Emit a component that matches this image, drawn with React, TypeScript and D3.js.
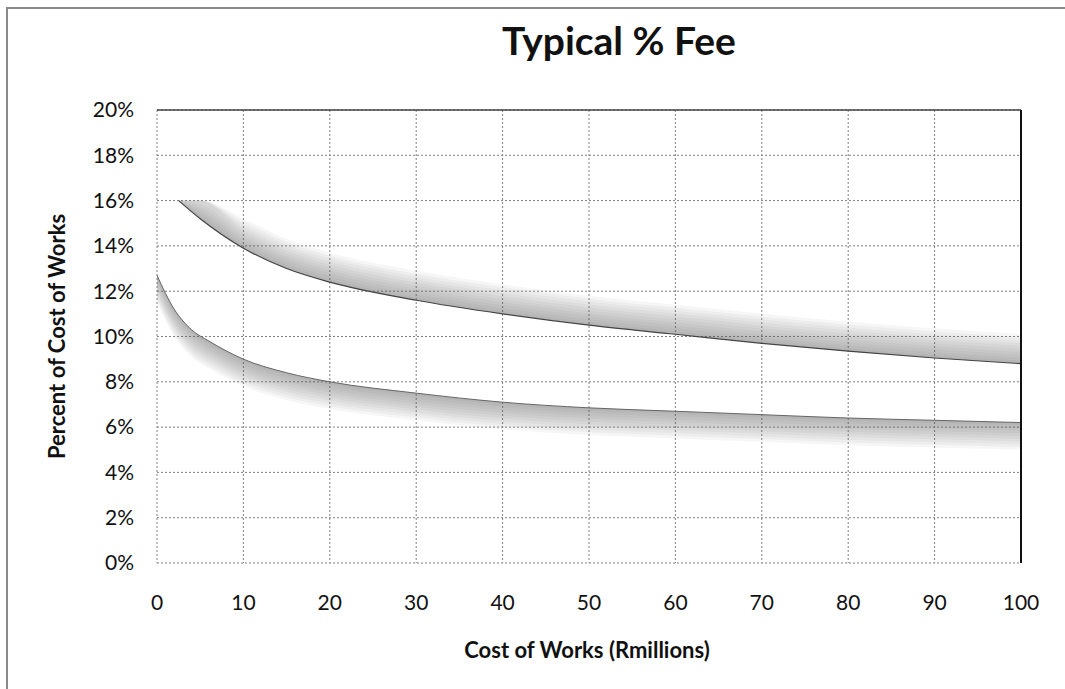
import React, { useRef, useEffect } from "react";
import * as d3 from "d3";

// values (percent of cost of works)
const upperX = [2.5, 5, 10, 15, 20, 30, 40, 50, 60, 70, 80, 90, 100];
const upperY = [16.0, 15.2, 13.9, 13.0, 12.4, 11.6, 11.0, 10.5, 10.1, 9.7, 9.35, 9.05, 8.8];
const lowerX = [0, 2, 4, 6, 10, 15, 20, 30, 40, 50, 60, 70, 80, 90, 100];
const lowerY = [12.7, 11.2, 10.3, 9.8, 9.0, 8.4, 8.0, 7.5, 7.1, 6.85, 6.7, 6.55, 6.4, 6.3, 6.2];
const xTicks = [0, 10, 20, 30, 40, 50, 60, 70, 80, 90, 100];
const yTicks = [0, 2, 4, 6, 8, 10, 12, 14, 16, 18, 20];

type Pt = { x: number; y: number };

const TypicalFeeChart = () => {
  const svgRef = useRef<SVGSVGElement>(null);

  useEffect(() => {
    document.body.style.margin = "0";
    if (!svgRef.current) return;
    const svg = d3.select(svgRef.current);
    svg.selectAll("*").remove();

    const width = 1065;
    const height = 689;
    const left = 157;
    const right = 1021;
    const top = 110;
    const bottom = 563;
    const font = "Lato, 'Open Sans', sans-serif";

    const x = d3.scaleLinear([0, 100], [left, right]);
    const y = d3.scaleLinear([0, 20], [bottom, top]);

    const upper: Pt[] = upperX.map((v, i) => ({ x: v, y: upperY[i] }));
    const lower: Pt[] = lowerX.map((v, i) => ({ x: v, y: lowerY[i] }));

    svg.attr("width", width).attr("height", height).style("display", "block");

    svg
      .append("rect")
      .attr("width", width)
      .attr("height", height)
      .attr("fill", "white");

    // outer chart border (scan)
    svg
      .append("rect")
      .attr("x", 7)
      .attr("y", 8)
      .attr("width", width + 20)
      .attr("height", height + 20)
      .attr("fill", "none")
      .attr("stroke", "#8a8a8a")
      .attr("stroke-width", 2);

    // grid
    const grid = svg.append("g");
    grid
      .selectAll("line.h")
      .data(yTicks)
      .join("line")
      .attr("x1", left)
      .attr("x2", right)
      .attr("y1", (d) => y(d))
      .attr("y2", (d) => y(d))
      .attr("stroke", "#808080")
      .attr("stroke-width", 1)
      .attr("stroke-dasharray", "2,2");
    grid
      .selectAll("line.v")
      .data(xTicks)
      .join("line")
      .attr("x1", (d) => x(d))
      .attr("x2", (d) => x(d))
      .attr("y1", top)
      .attr("y2", bottom)
      .attr("stroke", "#808080")
      .attr("stroke-width", 1)
      .attr("stroke-dasharray", "2,2");

    // soft grey bands outside the white fee band
    const steps = 10;
    const upperArea = (k: number) =>
      d3
        .area<Pt>()
        .x((d) => x(d.x))
        .y0((d) => y(d.y))
        .y1((d) => y(Math.min(d.y + k * 0.13, 16)))
        .curve(d3.curveMonotoneX);
    const lowerArea = (k: number) =>
      d3
        .area<Pt>()
        .x((d) => x(d.x))
        .y0((d) => y(d.y))
        .y1((d) => y(d.y - k * 0.12))
        .curve(d3.curveMonotoneX);

    for (let k = 1; k <= steps; k++) {
      svg
        .append("path")
        .attr("d", upperArea(k)(upper))
        .attr("fill", "#555")
        .attr("fill-opacity", 0.055);
      svg
        .append("path")
        .attr("d", lowerArea(k)(lower))
        .attr("fill", "#555")
        .attr("fill-opacity", 0.055);
    }

    const line = d3
      .line<Pt>()
      .x((d) => x(d.x))
      .y((d) => y(d.y))
      .curve(d3.curveMonotoneX);

    svg
      .append("path")
      .attr("d", line(upper))
      .attr("fill", "none")
      .attr("stroke", "#444")
      .attr("stroke-width", 1.2);
    svg
      .append("path")
      .attr("d", line(lower))
      .attr("fill", "none")
      .attr("stroke", "#666")
      .attr("stroke-width", 1);

    // plot border
    svg
      .append("line")
      .attr("x1", left)
      .attr("x2", right)
      .attr("y1", top)
      .attr("y2", top)
      .attr("stroke", "#444")
      .attr("stroke-width", 1.5);
    svg
      .append("line")
      .attr("x1", right)
      .attr("x2", right)
      .attr("y1", top)
      .attr("y2", bottom)
      .attr("stroke", "#111")
      .attr("stroke-width", 2);

    // tick labels
    svg
      .append("g")
      .selectAll("text")
      .data(yTicks)
      .join("text")
      .attr("x", 134)
      .attr("y", (d) => y(d))
      .attr("dy", "0.35em")
      .attr("text-anchor", "end")
      .style("font", `21px ${font}`)
      .attr("fill", "#111")
      .text((d) => `${d}%`);

    svg
      .append("g")
      .selectAll("text")
      .data(xTicks)
      .join("text")
      .attr("x", (d) => x(d))
      .attr("y", 603)
      .attr("dy", "0.35em")
      .attr("text-anchor", "middle")
      .style("font", `21px ${font}`)
      .attr("fill", "#111")
      .text((d) => d);

    // titles
    svg
      .append("text")
      .attr("x", 619)
      .attr("y", 55)
      .attr("text-anchor", "middle")
      .style("font", `bold 39px ${font}`)
      .attr("fill", "#111")
      .text("Typical % Fee");

    svg
      .append("text")
      .attr("x", 587)
      .attr("y", 650)
      .attr("dy", "0.35em")
      .attr("text-anchor", "middle")
      .style("font", `bold 22px ${font}`)
      .attr("fill", "#111")
      .text("Cost of Works (Rmillions)");

    svg
      .append("text")
      .attr("transform", `translate(57,${(top + bottom) / 2}) rotate(-90)`)
      .attr("dy", "0.35em")
      .attr("text-anchor", "middle")
      .style("font", `bold 22px ${font}`)
      .attr("fill", "#111")
      .text("Percent of Cost of Works");
  }, []);

  return <svg ref={svgRef}></svg>;
};

export default function App() {
  return <TypicalFeeChart />;
}
